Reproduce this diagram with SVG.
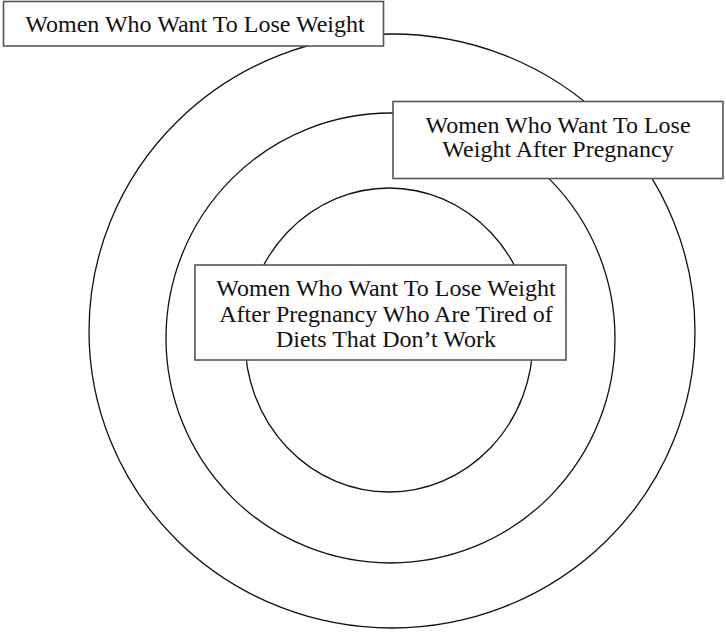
<svg xmlns="http://www.w3.org/2000/svg" width="726" height="632" viewBox="0 0 726 632">
<style>
.ring{fill:none;stroke:#111;stroke-width:1.3}
.box{fill:#fff;stroke:#555;stroke-width:1.6}
.t{font-family:"Liberation Serif","Times New Roman",serif;font-size:24px;fill:#111;text-anchor:middle}
</style>
<rect width="726" height="632" fill="#fff"/>
<g id="connectors"></g>
<g id="outer-ring"><ellipse class="ring" cx="392" cy="331" rx="303" ry="297"/></g>
<g id="middle-ring"><ellipse class="ring" cx="390.5" cy="338" rx="224.5" ry="225"/></g>
<g id="inner-ring"><ellipse class="ring" cx="389" cy="340" rx="144" ry="152"/></g>
<g id="box-outer">
<rect class="box" x="3.5" y="1.5" width="380" height="44.5"/>
<text class="t" x="195" y="32">Women Who Want To Lose Weight</text>
</g>
<g id="box-middle">
<rect class="box" x="393" y="101.5" width="330" height="77"/>
<text class="t" x="558" y="133">Women Who Want To Lose</text>
<text class="t" x="558" y="157">Weight After Pregnancy</text>
</g>
<g id="box-inner">
<rect class="box" x="195" y="265" width="371" height="95"/>
<text class="t" x="386" y="296">Women Who Want To Lose Weight</text>
<text class="t" x="386" y="322">After Pregnancy Who Are Tired of</text>
<text class="t" x="386" y="347">Diets That Don’t Work</text>
</g>
</svg>
